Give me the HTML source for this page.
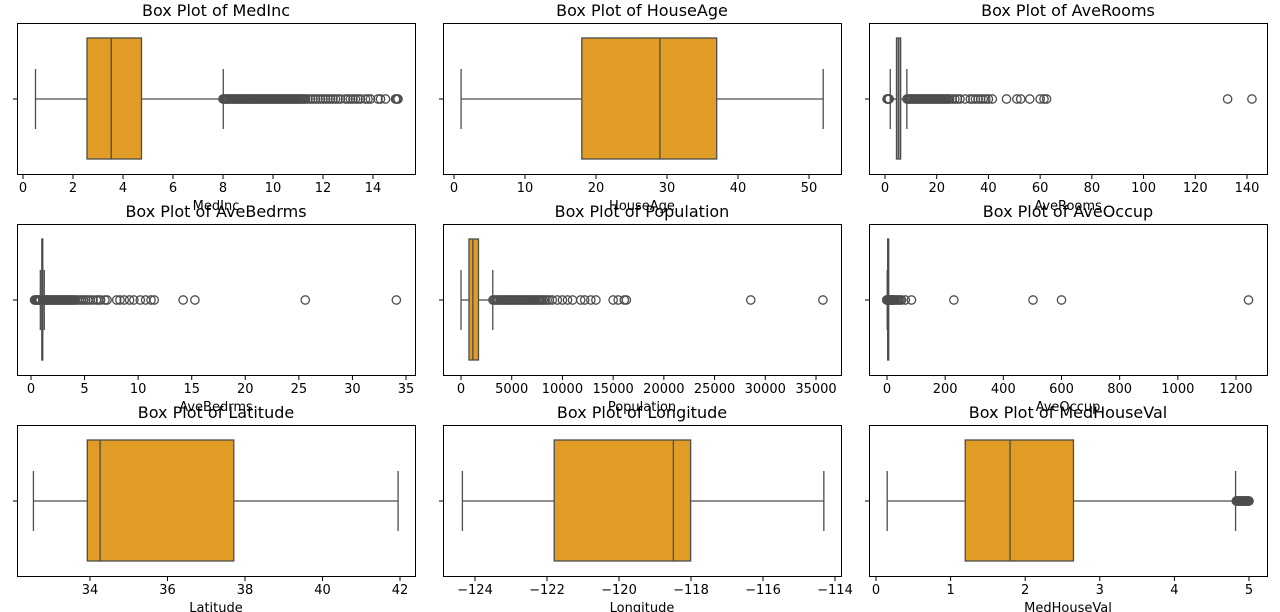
<!DOCTYPE html>
<html><head><meta charset="utf-8"><style>
body{margin:0;background:#fff;}
svg{display:block;font-family:"DejaVu Sans","Liberation Sans",sans-serif;}
</style></head><body>
<svg id="fig" width="1280" height="612"></svg>
<script>
// Data per panel
const names = ["MedInc","HouseAge","AveRooms","AveBedrms","Population","AveOccup","Latitude","Longitude","MedHouseVal"];
const q1s = [2.56,18,4.44,1.006,787,2.43,33.93,-121.8,1.196];
const medians = [3.53,29,5.23,1.049,1166,2.82,34.26,-118.49,1.797];
const q3s = [4.74,37,6.05,1.10,1725,3.28,37.71,-118.01,2.647];
const whiskLo = [0.5,1,2.03,0.87,3,0.69,32.54,-124.35,0.15];
const whiskHi = [8.01,52,8.46,1.24,3132,4.56,41.95,-114.31,4.82];
const outMedInc = [8.0,8.05,8.1,8.15,8.2,8.25,8.3,8.35,8.4,8.45,8.5,8.55,8.6,8.65,8.7,8.75,8.8,8.85,8.9,8.95,9.0,9.05,9.1,9.15,9.2,9.25,9.3,9.35,9.4,9.45,9.5,9.55,9.6,9.65,9.7,9.75,9.8,9.85,9.9,9.95,10.0,10.05,10.1,10.15,10.2,10.25,10.3,10.35,10.4,10.45,10.5,10.55,10.6,10.65,10.7,10.75,10.8,10.85,10.9,10.95,11.0,11.05,11.1,11.15,11.2,11.25,11.3,11.4,11.5,11.6,11.7,11.8,11.9,12.0,12.1,12.2,12.3,12.4,12.5,12.6,12.7,12.9,13.0,13.1,13.2,13.3,13.4,13.5,13.7,13.8,13.9,14.2,14.3,14.5,14.9,14.95,15.0];
const outHouseAge = [];
const outAveRooms = [0.8,1.0,1.2,1.4,1.6,8.5,9,9.5,10,10.5,11,11.5,12,12.5,13,13.5,14,14.5,15,15.5,16,16.5,17,17.5,18,18.5,19,19.5,20,20.5,21,21.5,22,22.5,23,23.5,24,24.5,25,26,27,28,29,31,33,34,35,36,37,38,39,40,41.5,47,51,52.5,56,60,61.5,62.5,132.5,141.9];
const outAveBedrms = [0.33,0.4,0.5,0.6,0.7,0.8,0.85,1.25,1.3,1.4,1.5,1.6,1.7,1.8,1.9,2.0,2.1,2.2,2.3,2.4,2.5,2.6,2.7,2.8,2.9,3.0,3.1,3.2,3.3,3.4,3.5,3.6,3.7,3.8,3.9,4.0,4.1,4.3,4.5,4.7,4.9,5.1,5.3,5.5,5.8,6.1,6.3,6.5,6.9,7.1,8.0,8.3,8.7,9.2,9.6,10.2,10.7,11.2,11.5,14.2,15.3,25.6,34.1];
const outPopulation = [3150,3300,3450,3600,3750,3900,4050,4200,4350,4500,4650,4800,4950,5100,5250,5400,5550,5700,5850,6000,6150,6300,6450,6600,6750,6900,7050,7200,7350,7500,7650,7800,7950,8100,8300,8500,8700,9000,9500,10000,10500,11000,11800,12200,12800,13300,15000,15500,16100,16300,28566,35682];
const outAveOccup = [0.7,-1,5,8,11,14,17,20,23,26,30,35,40,45,50,63,84,230,502,600,1243];
const outLatitude = [];
const outLongitude = [];
const outMedHouseVal = [4.83,4.84,4.85,4.86,4.87,4.88,4.89,4.9,4.91,4.92,4.93,4.94,4.95,4.96,4.97,4.98,4.99,5.0];
const outliers = [outMedInc,outHouseAge,outAveRooms,outAveBedrms,outPopulation,outAveOccup,outLatitude,outLongitude,outMedHouseVal];
// tick labels
const ticks = [[0,2,4,6,8,10,12,14],[0,10,20,30,40,50],[0,20,40,60,80,100,120,140],[0,5,10,15,20,25,30,35],[0,5000,10000,15000,20000,25000,30000,35000],[0,200,400,600,800,1000,1200],[34,36,38,40,42],[-124,-122,-120,-118,-116,-114],[0,1,2,3,4,5]];
// axis calibration: value pair -> pixel pair
const calV = [[0,14],[0,50],[0,140],[0,35],[0,35000],[0,1200],[34,42],[-124,-114],[0,5]];
const calP = [[23,373],[454,809],[885,1247],[31,406],[461,816],[887,1236],[90,400],[475,835],[876,1249]];

const svg = document.getElementById('fig');
const NS = 'http://www.w3.org/2000/svg';
function mk(tag, attrs, parent){const e=document.createElementNS(NS,tag);for(const k in attrs)e.setAttribute(k,attrs[k]);(parent||svg).appendChild(e);return e;}
const lefts=[17,443,869], tops=[23,224,425], W=398, H=151;
const LC='#4d4d4d';
for(let i=0;i<9;i++){
  const L=lefts[i%3], T=tops[Math.floor(i/3)];
  const [v0,v1]=calV[i],[p0,p1]=calP[i];
  const X=v=>p0+(v-v0)*(p1-p0)/(v1-v0);
  const g=mk('g',{});
  
  
  const cy=T+76, by0=T+15, by1=T+136;
  const t=mk('text',{x:L+W/2,y:T-7,'text-anchor':'middle','font-size':'16','fill':'#000'},g);
  t.textContent='Box Plot of '+names[i];
  
  
  const wl=mk('line',{x1:X(whiskLo[i]),x2:X(q1s[i]),y1:cy,y2:cy,stroke:LC,'stroke-width':1.3},g);
  
  
  const wh=mk('line',{x1:X(q3s[i]),x2:X(whiskHi[i]),y1:cy,y2:cy,stroke:LC,'stroke-width':1.3},g);
  
  
  for(const v of [whiskLo[i],whiskHi[i]]){
    const c=mk('line',{x1:X(v),x2:X(v),y1:T+46,y2:T+106,stroke:LC,'stroke-width':1.3},g);
    
    
  }
  const b=mk('rect',{x:X(q1s[i]),y:by0,width:Math.max(1,X(q3s[i])-X(q1s[i])),height:by1-by0,fill:'#e09c24',stroke:LC,'stroke-width':1.3},g);
  
  
  const m=mk('line',{x1:X(medians[i]),x2:X(medians[i]),y1:by0,y2:by1,stroke:LC,'stroke-width':1.3},g);
  
  
  for(const v of outliers[i]){
    const c=mk('circle',{cx:X(v),cy:cy,r:4.2,fill:'none',stroke:LC,'stroke-width':1.3},g);
    
    
  }
  const fr=mk('rect',{x:L+0.5,y:T+0.5,width:W,height:H,fill:'none',stroke:'#000','stroke-width':1},g);
  
  
  mk('line',{x1:L-4,x2:L,y1:cy,y2:cy,stroke:'#000','stroke-width':1},g);
  for(const tv of ticks[i]){
    const x=X(tv);
    mk('line',{x1:x,x2:x,y1:T+H+1,y2:T+H+5,stroke:'#000','stroke-width':1},g);
    const tl=mk('text',{x:x,y:T+H+18,'text-anchor':'middle','font-size':'13',fill:'#000'},g);
    tl.textContent=(tv<0?'\u2212'+(-tv):String(tv));
    
    
  }
  const xl=mk('text',{x:L+W/2,y:T+H+36,'text-anchor':'middle','font-size':'13',fill:'#000'},g);
  xl.textContent=names[i];
  
  
}
</script>
</body></html>
